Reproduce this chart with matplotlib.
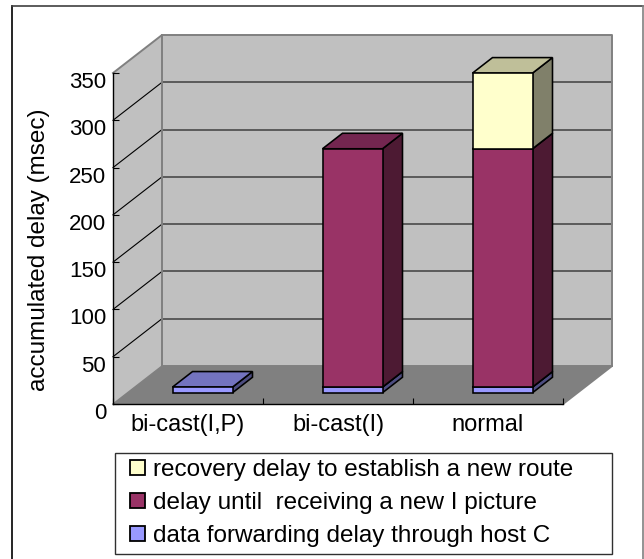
import matplotlib
matplotlib.use('Agg')
import matplotlib.pyplot as plt
from matplotlib.legend_handler import HandlerPatch
from matplotlib.lines import Line2D
from matplotlib.patches import Patch, Polygon, Rectangle
from matplotlib.transforms import ScaledTranslation

plt.rcParams['font.family'] = ['Liberation Sans', 'DejaVu Sans']

# data
categories = ['bi-cast(I,P)', 'bi-cast(I)', 'normal']
forwarding = [6, 6, 6]
until_picture = [0, 252, 252]
recovery = [0, 0, 80]
y_ticks = [0, 50, 100, 150, 200, 250, 300, 350]
series_names = ['data forwarding delay through host C',
                'delay until  receiving a new I picture',
                'recovery delay to establish a new route']

# front, top, side colours for each series
colors = [('#9999FF', '#7373BF', '#4D4D80'),
          ('#993366', '#732650', '#4D1A33'),
          ('#FFFFCC', '#BFBF99', '#80806A')]

W, H = 644, 559
fig = plt.figure(figsize=(W / 100, H / 100), dpi=100)

# front plane of the 3d box
left, right, top, bottom = 113, 563, 73, 404
ax = fig.add_axes([left / W, 1 - bottom / H, (right - left) / W, (bottom - top) / H])
ax.set_xlim(0, 3)
ax.set_ylim(0, 350)
ax.patch.set_visible(False)

# depth of the box in data units
dx = 49 / 150
dy = 38 / (331 / 350)
bar_w = 0.4
d0, d1 = 0.296, 0.704
bar_lw = 1.15


def proj(x, y, d):
    return x + d * dx, y + d * dy


def poly(pts, fc, ec='black', lw=bar_lw, z=2):
    ax.add_patch(Polygon(pts, closed=True, fc=fc, ec=ec, lw=lw, zorder=z,
                         joinstyle='miter', clip_on=False))


# walls and floor
poly([proj(0, 0, 0), proj(0, 350, 0), proj(0, 350, 1), proj(0, 0, 1)], '#C0C0C0', 'none', 0, 1)
poly([proj(0, 0, 1), proj(0, 350, 1), proj(3, 350, 1), proj(3, 0, 1)], '#C0C0C0', 'none', 0, 1)
poly([proj(0, 0, 0), proj(3, 0, 0), proj(3, 0, 1), proj(0, 0, 1)], '#808080', 'none', 0, 1)

for v in y_ticks[1:-1]:
    ax.plot(*zip(proj(0, v, 0), proj(0, v, 1)), color='black', lw=0.8, zorder=1.5, clip_on=False)
    ax.plot(*zip(proj(0, v, 1), proj(3, v, 1)), color='#404040', lw=1.1, zorder=1.5, clip_on=False)

# wall edges
ax.plot(*zip(proj(0, 350, 0), proj(0, 350, 1), proj(3, 350, 1), proj(3, 0, 1), proj(3, 0, 0)),
        color='#808080', lw=1.4, zorder=1.6, clip_on=False)
ax.plot(*zip(proj(0, 350, 1), proj(0, 0, 1), proj(3, 0, 1)),
        color='#808080', lw=1.4, zorder=1.6, clip_on=False)
ax.plot(*zip(proj(0, 0, 0), proj(0, 0, 1)), color='#808080', lw=1.0, zorder=1.6, clip_on=False)

# stacked bars
series = [forwarding, until_picture, recovery]
for i in range(len(categories)):
    base = 0
    for s, vals in enumerate(series):
        v = vals[i]
        if v == 0:
            continue
        x0 = i + 0.5 - bar_w / 2
        x1 = i + 0.5 + bar_w / 2
        z = 3 + s + i * 10
        # side and top first, the front goes over them
        poly([proj(x1, base, d0), proj(x1, base, d1), proj(x1, base + v, d1), proj(x1, base + v, d0)],
             colors[s][2], z=z)
        poly([proj(x0, base + v, d0), proj(x1, base + v, d0), proj(x1, base + v, d1), proj(x0, base + v, d1)],
             colors[s][1], z=z)
        fx, fy = proj(x0, base, d0)
        ax.bar(fx, v, bar_w, bottom=fy, align='edge', color=colors[s][0], edgecolor='black',
               linewidth=bar_lw, zorder=z + 0.5, clip_on=False)
        base += v

# axes
for name in ['top', 'right']:
    ax.spines[name].set_visible(False)
for name in ['left', 'bottom']:
    ax.spines[name].set_linewidth(1.0)
    ax.spines[name].set_zorder(1.8)
ax.set_yticks(y_ticks)
ax.set_xticks([0, 1, 2, 3])
ax.set_xticklabels([])
ax.set_xticks([0.5, 1.5, 2.5], minor=True)
ax.set_xticklabels(categories, minor=True, fontsize=17)
ax.tick_params(axis='x', which='major', direction='in', length=4.5, width=0.8)
ax.tick_params(axis='x', which='minor', length=0, pad=7)
ax.tick_params(axis='y', direction='in', length=4.5, width=0.8, labelsize=16, pad=5)
ax.set_axisbelow(False)

# the y labels sit a bit under their ticks in the source
down = ScaledTranslation(0, -7 / 100, fig.dpi_scale_trans)
for lab in ax.get_yticklabels():
    lab.set_transform(lab.get_transform() + down)

fig.text(39 / W, 1 - 250 / H, 'accumulated delay (msec)', rotation=90, fontsize=17.5,
         ha='center', va='center')

# outer frame, the bottom is cut off in the source
fig.add_artist(Line2D([12.5 / W, 12.5 / W], [0, 1 - 6 / H], color='black', lw=1.2))
fig.add_artist(Line2D([12.5 / W, 643 / W], [1 - 6 / H, 1 - 6 / H], color='#404040', lw=1.2))
fig.add_artist(Line2D([643 / W, 643 / W], [0, 1 - 6 / H], color='#808080', lw=1.2))


# legend, small square at the right end of a wider handle box
def square(legend, orig_handle, xdescent, ydescent, width, height, fontsize):
    s = 10.8
    return Rectangle((width - s - xdescent, (height - s) / 2 - ydescent), s, s)


handles = [Patch(fc=colors[s][0], ec='black', lw=1.3) for s in (2, 1, 0)]
leg = fig.legend(handles, series_names[::-1], loc='upper left',
                 bbox_to_anchor=(115 / W, 1 - 556.5 / H, 497 / W, 104 / H), mode='expand',
                 fontsize=17.5, frameon=True, fancybox=False, edgecolor='#303030', framealpha=1,
                 handlelength=0.967, handletextpad=0.33, labelspacing=0.45,
                 borderpad=0.27, borderaxespad=0, alignment='left',
                 handler_map={Patch: HandlerPatch(patch_func=square)})
leg.get_frame().set_linewidth(1.0)

fig.savefig('out.png', dpi=100)
